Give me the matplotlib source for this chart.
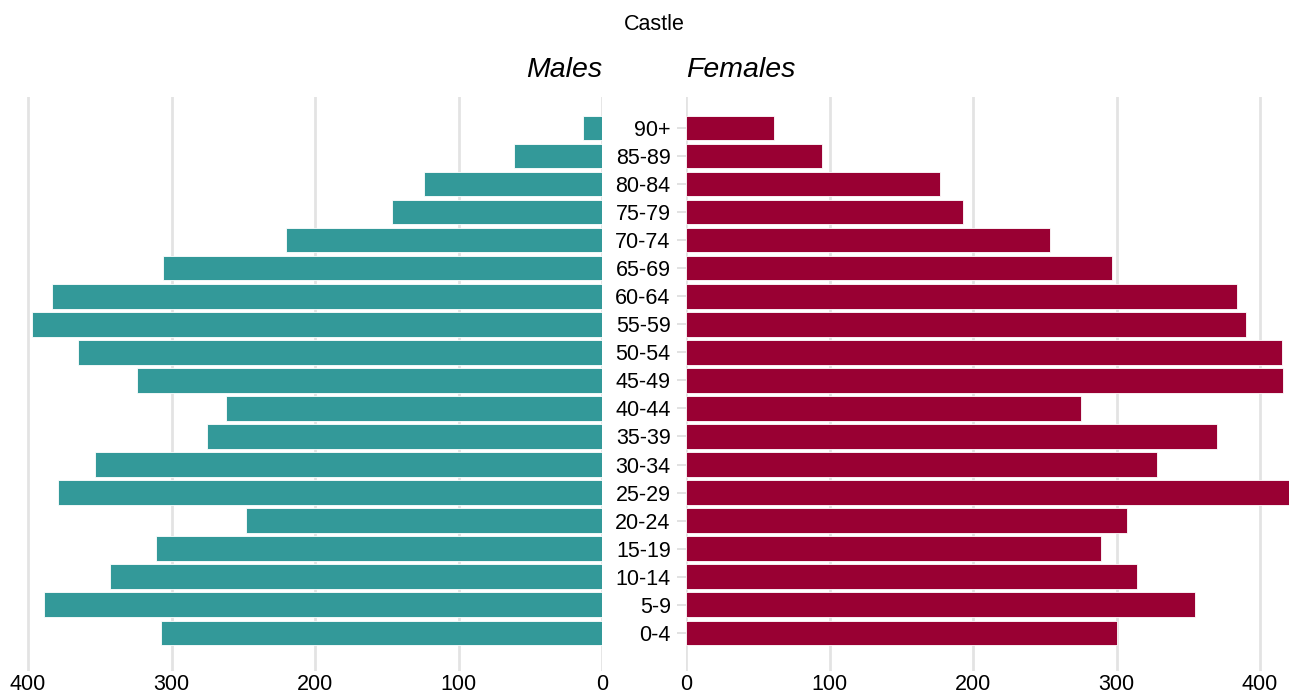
import matplotlib
matplotlib.use("Agg")
import matplotlib.pyplot as plt
import numpy as np

plt.rcParams['font.family'] = ['Liberation Sans', 'DejaVu Sans']

age_groups = ["0-4", "5-9", "10-14", "15-19", "20-24", "25-29", "30-34", "35-39",
              "40-44", "45-49", "50-54", "55-59", "60-64", "65-69", "70-74",
              "75-79", "80-84", "85-89", "90+"]
males = [307, 389, 343, 311, 248, 379, 353, 275, 262, 324, 365, 397, 383, 306,
         220, 146, 124, 61, 13]
females = [300, 355, 314, 289, 307, 430, 328, 370, 275, 416, 415, 390, 384, 297,
           254, 193, 177, 95, 61]
x_ticks = [0, 100, 200, 300, 400]
title = "Castle"

male_color = "#339999"
female_color = "#990033"
grid_color = "#e3e3e3"

W, H = 1289, 695
fig = plt.figure(figsize=(W / 100, H / 100), dpi=100)

y_top_px, y_bot_px = 97, 671
ax_bottom = 1 - y_bot_px / H
ax_height = (y_bot_px - y_top_px) / H

axL = fig.add_axes([-1 / W, ax_bottom, 603 / W, ax_height])
axR = fig.add_axes([686 / W, ax_bottom, 603 / W, ax_height])

y = np.arange(len(age_groups))
xmax = 603 / 1.435

for ax, vals, col in ((axL, males, male_color), (axR, females, female_color)):
    ax.barh(y, vals, height=0.88, color=col, edgecolor="white", linewidth=0.6, zorder=3)
    ax.set_xlim(0, xmax)
    ax.set_ylim(-1.36, 19.1)
    ax.set_xticks(x_ticks)
    ax.set_xticklabels([str(t) for t in x_ticks])
    ax.grid(axis="x", color=grid_color, linewidth=2, zorder=0)
    ax.grid(axis="y", visible=False)
    for s in ax.spines.values():
        s.set_visible(False)
    ax.tick_params(axis="x", length=0, pad=2, labelsize=15.5, colors="black")

axL.invert_xaxis()
axL.set_yticks([])
axR.set_yticks(y)
axR.set_yticklabels(age_groups)
axR.tick_params(axis="y", length=6.5, width=1.2, color="#dddddd", pad=4.5,
                labelsize=15.5, labelcolor="black")

fig.text(654 / W, 1 - 24 / H, title, ha="center", va="center", fontsize=15.5)
fig.text(602 / W, 1 - 70 / H, "Males", ha="right", va="center", fontsize=20.5, style="italic")
fig.text(686 / W, 1 - 70 / H, "Females", ha="left", va="center", fontsize=20.5, style="italic")

fig.savefig("out.png", dpi=100)
